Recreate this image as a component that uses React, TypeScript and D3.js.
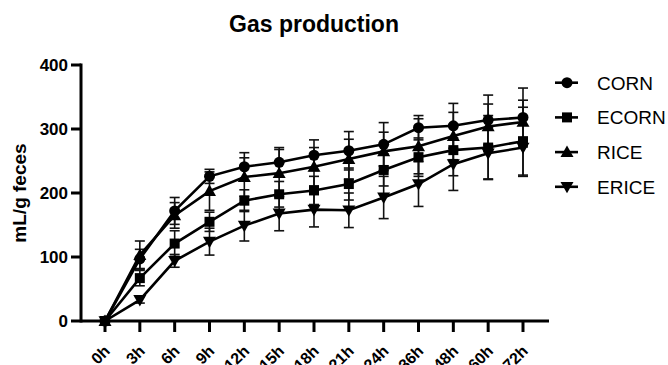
import React from "react";
import * as d3 from "d3";

// Sampling times and mean cumulative gas volume (mL/g feces) with SD
const times = ["0h", "3h", "6h", "9h", "12h", "15h", "18h", "21h", "24h", "36h", "48h", "60h", "72h"];
const cornMean = [0, 97, 172, 226, 241, 248, 259, 266, 276, 302, 305, 314, 318];
const cornSd = [0, 15, 21, 11, 22, 23, 24, 30, 34, 19, 35, 39, 46];
const ecornMean = [0, 67, 121, 155, 188, 198, 204, 214, 236, 256, 267, 271, 281];
const ecornSd = [0, 12, 20, 15, 17, 20, 22, 25, 25, 30, 40, 50, 53];
const riceMean = [0, 103, 165, 203, 225, 231, 241, 253, 265, 273, 289, 304, 311];
const riceSd = [0, 22, 20, 30, 30, 37, 30, 31, 30, 43, 37, 35, 34];
const ericeMean = [0, 33, 94, 124, 149, 168, 174, 173, 193, 214, 245, 262, 271];
const ericeSd = [0, 5, 10, 21, 24, 27, 27, 27, 33, 35, 41, 40, 45];
const seriesNames = ["CORN", "ECORN", "RICE", "ERICE"];
const yTicks = [0, 100, 200, 300, 400];

type Shape = "circle" | "square" | "up" | "down";
const shapes: Shape[] = ["circle", "square", "up", "down"];
const means = [cornMean, ecornMean, riceMean, ericeMean];
const sds = [cornSd, ecornSd, riceSd, ericeSd];

const FONT = "Arial, 'Liberation Sans', Helvetica, sans-serif";

function Marker({ shape, x, y }: { shape: Shape; x: number; y: number }) {
  if (shape === "circle") return <circle cx={x} cy={y} r={5.5} fill="#000" />;
  if (shape === "square") return <rect x={x - 5} y={y - 5} width={10} height={10} fill="#000" />;
  const s = 6.5;
  if (shape === "up")
    return <path d={`M${x},${y - s} L${x + s},${y + s * 0.75} L${x - s},${y + s * 0.75} Z`} fill="#000" />;
  return <path d={`M${x},${y + s} L${x + s},${y - s * 0.75} L${x - s},${y - s * 0.75} Z`} fill="#000" />;
}

export default function App() {
  const width = 668;
  const height = 365;
  const x = d3.scalePoint<string>().domain(times).range([105, 523]);
  const y = d3.scaleLinear().domain([0, 400]).range([321, 65]);
  const axisLeft = 81;
  const axisRight = 549;

  const line = d3
    .line<number>()
    .x((_, i) => x(times[i]) as number)
    .y((v) => y(v));

  return (
    <svg
      width={width}
      height={height}
      style={{ position: "absolute", left: 0, top: 0, background: "#fff" }}
      fontFamily={FONT}
    >
      <text x={314} y={32} textAnchor="middle" fontSize={23} fontWeight="bold">
        Gas production
      </text>

      {/* error bars */}
      {means.map((m, si) =>
        m.map((v, i) => {
          const sd = sds[si][i];
          if (!sd) return null;
          const cx = x(times[i]) as number;
          const y1 = y(v + sd);
          const y2 = y(v - sd);
          return (
            <g key={`e${si}-${i}`} stroke="#111" strokeWidth={1.6}>
              <line x1={cx} x2={cx} y1={y1} y2={y2} />
              <line x1={cx - 5} x2={cx + 5} y1={y1} y2={y1} />
              <line x1={cx - 5} x2={cx + 5} y1={y2} y2={y2} />
            </g>
          );
        })
      )}

      {/* series lines */}
      {means.map((m, si) => (
        <path key={`l${si}`} d={line(m) as string} fill="none" stroke="#000" strokeWidth={2.6} />
      ))}

      {/* markers */}
      {means.map((m, si) =>
        m.map((v, i) => (
          <Marker key={`m${si}-${i}`} shape={shapes[si]} x={x(times[i]) as number} y={y(v)} />
        ))
      )}

      {/* y axis */}
      <line x1={axisLeft} x2={axisLeft} y1={y(400) - 1.5} y2={y(0) + 1.5} stroke="#000" strokeWidth={3} />
      {yTicks.map((t) => (
        <g key={`yt${t}`}>
          <line x1={axisLeft - 10} x2={axisLeft} y1={y(t)} y2={y(t)} stroke="#000" strokeWidth={3} />
          <text x={68} y={y(t) + 6} textAnchor="end" fontSize={17} fontWeight="bold">
            {t}
          </text>
        </g>
      ))}
      <text
        transform={`translate(26,${y(200)}) rotate(-90)`}
        textAnchor="middle"
        fontSize={19}
        fontWeight="bold"
      >
        mL/g feces
      </text>

      {/* x axis */}
      <line x1={axisLeft} x2={axisRight} y1={y(0)} y2={y(0)} stroke="#000" strokeWidth={3} />
      {times.map((t) => {
        const cx = x(t) as number;
        return (
          <g key={`xt${t}`}>
            <line x1={cx} x2={cx} y1={y(0)} y2={y(0) + 11} stroke="#000" strokeWidth={3} />
            <text
              transform={`translate(${cx + 6},${y(0) + 31}) rotate(-45)`}
              textAnchor="end"
              fontSize={16}
              fontWeight="bold"
            >
              {t}
            </text>
          </g>
        );
      })}

      {/* legend */}
      {seriesNames.map((name, i) => {
        const ly = 82.7 + i * 34.7;
        return (
          <g key={`lg${name}`}>
            <line x1={555} x2={578} y1={ly} y2={ly} stroke="#000" strokeWidth={2.6} />
            <Marker shape={shapes[i]} x={567} y={ly} />
            <text x={597} y={ly + 7} fontSize={19}>
              {name}
            </text>
          </g>
        );
      })}
    </svg>
  );
}
